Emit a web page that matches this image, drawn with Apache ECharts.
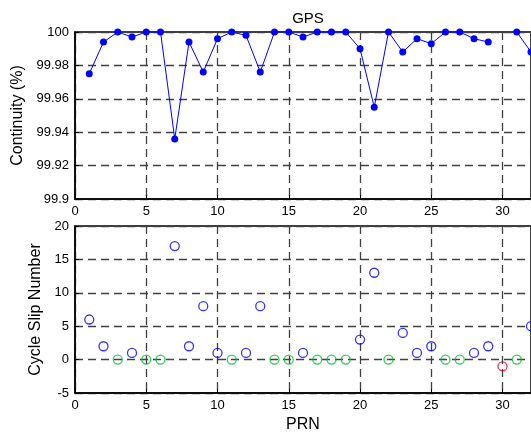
<!DOCTYPE html>
<html>
<head>
<meta charset="utf-8">
<script src="https://cdn.jsdelivr.net/npm/echarts@6/dist/echarts.min.js"></script>
<style>
  html, body { margin: 0; padding: 0; background: #fff; }
  #chart { width: 531px; height: 434px; }
</style>
</head>
<body>
<div id="chart"></div>
<script>
// Satellite PRN numbers
var prn = [1,2,3,4,5,6,7,8,9,10,11,12,13,14,15,16,17,18,19,20,21,22,23,24,25,26,27,28,29,30,31,32];

// Continuity per PRN (%); PRN 30 has no data
var continuity = [99.975, 99.994, 100, 99.997, 100, 100, 99.936, 99.994, 99.976, 99.996,
                  100, 99.998, 99.976, 100, 100, 99.997, 100, 100, 100, 99.990,
                  99.955, 100, 99.988, 99.996, 99.993, 100, 100, 99.996, 99.994, null,
                  100, 99.988];

// Cycle slip count per PRN; -1 marks a satellite without observations
var cycleSlips = [6, 2, 0, 1, 0, 0, 17, 2, 8, 1,
                  0, 1, 8, 0, 0, 1, 0, 0, 0, 3,
                  13, 0, 4, 1, 2, 0, 0, 1, 2, -1,
                  0, 5];

var xTicks = [0, 5, 10, 15, 20, 25, 30];
var contTicks = [99.9, 99.92, 99.94, 99.96, 99.98, 100];
var slipTicks = [-5, 0, 5, 10, 15, 20];

var FONT = 'Liberation Sans, Arial, sans-serif';

var linePts = prn.map(function (p, i) { return [p, continuity[i]]; });
function pick(test) {
  var out = [];
  prn.forEach(function (p, i) { if (test(cycleSlips[i])) out.push([p, cycleSlips[i]]); });
  return out;
}
var slipsPositive = pick(function (v) { return v > 0; });
var slipsZero = pick(function (v) { return v === 0; });
var slipsMissing = pick(function (v) { return v < 0; });

var gridLine = { show: true, lineStyle: { color: '#404040', width: 1.3, type: [8, 5] } };
var axisLineStyle = { show: true, onZero: false, lineStyle: { color: '#000', width: 1.5 } };
var tickStyle = { show: true, inside: true, length: 4, lineStyle: { color: '#000' } };
var labelStyle = { color: '#000', fontFamily: FONT, fontSize: 13 };

function xAxisDef(gridIndex, name) {
  return {
    type: 'value', gridIndex: gridIndex,
    min: 0, max: 32, interval: 5,
    axisLine: axisLineStyle, axisTick: tickStyle,
    axisLabel: Object.assign({ margin: 6, showMaxLabel: false,
      formatter: function (v) { return xTicks.indexOf(v) >= 0 ? String(v) : ''; } }, labelStyle),
    splitLine: gridLine,
    name: name || '', nameLocation: 'middle', nameGap: 24,
    nameTextStyle: { color: '#000', fontFamily: FONT, fontSize: 16 }
  };
}

function ringSeries(data, color) {
  return {
    type: 'scatter', xAxisIndex: 1, yAxisIndex: 1, data: data,
    symbol: 'circle', symbolSize: 9, clip: false,
    itemStyle: { color: 'rgba(255,255,255,0)', borderColor: color, borderWidth: 1.3 }
  };
}

var chart = echarts.init(document.getElementById('chart'), null, { renderer: 'canvas' });
chart.setOption({
  backgroundColor: '#fff',
  animation: false,
  title: {
    text: 'GPS', left: 303, top: 6, textAlign: 'center',
    textStyle: { color: '#000', fontFamily: FONT, fontSize: 15, fontWeight: 'normal' }
  },
  grid: [
    { left: 75, right: -3, top: 32, height: 167, show: true, borderColor: '#000', borderWidth: 1.5, backgroundColor: 'transparent' },
    { left: 75, right: -3, top: 226, height: 167, show: true, borderColor: '#000', borderWidth: 1.5, backgroundColor: 'transparent' }
  ],
  xAxis: [xAxisDef(0), xAxisDef(1, 'PRN')],
  yAxis: [
    {
      type: 'value', gridIndex: 0,
      min: contTicks[0], max: contTicks[contTicks.length - 1], interval: 0.02,
      axisLine: axisLineStyle, axisTick: tickStyle,
      axisLabel: Object.assign({ margin: 6, formatter: function (v) { return String(+v.toFixed(2)); } }, labelStyle),
      splitLine: gridLine,
      name: 'Continuity (%)', nameLocation: 'middle', nameGap: 44,
      nameTextStyle: { color: '#000', fontFamily: FONT, fontSize: 16 }
    },
    {
      type: 'value', gridIndex: 1,
      min: slipTicks[0], max: slipTicks[slipTicks.length - 1], interval: 5,
      axisLine: axisLineStyle, axisTick: tickStyle,
      axisLabel: Object.assign({ margin: 6 }, labelStyle),
      splitLine: gridLine,
      name: 'Cycle Slip Number', nameLocation: 'middle', nameGap: 25,
      nameTextStyle: { color: '#000', fontFamily: FONT, fontSize: 16 }
    }
  ],
  series: [
    {
      type: 'line', xAxisIndex: 0, yAxisIndex: 0, data: linePts,
      connectNulls: false, symbol: 'circle', symbolSize: 7, showSymbol: true,
      lineStyle: { color: '#0000ff', width: 1 },
      itemStyle: { color: '#0000ff' }, clip: false
    },
    ringSeries(slipsPositive, '#0000ff'),
    ringSeries(slipsZero, '#00c030'),
    ringSeries(slipsMissing, '#d0103a')
  ]
});
</script>
</body>
</html>
